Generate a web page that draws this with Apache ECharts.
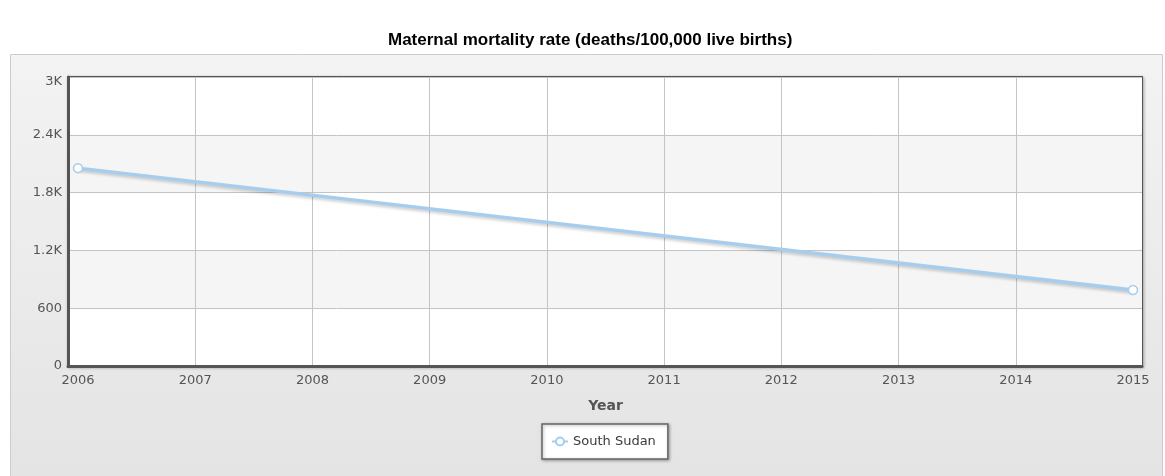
<!DOCTYPE html>
<html>
<head>
<meta charset="utf-8">
<script src="https://cdn.jsdelivr.net/npm/echarts@6/dist/echarts.min.js"></script>
<style>html,body{margin:0;padding:0;background:#fff;}#c{width:1165px;height:476px;}</style>
</head>
<body>
<div id="c"></div>
<script>
const titleText = 'Maternal mortality rate (deaths/100,000 live births)';
const seriesName = 'South Sudan';
const years = [2006, 2015];
const values = [2054, 789];
const yTicks = [0, 600, 1200, 1800, 2400, 3000];
const yTickLabels = ['0', '600', '1.2K', '1.8K', '2.4K', '3K'];

const chart = echarts.init(document.getElementById('c'));
const font = 'DejaVu Sans';
chart.setOption({
  animation: false,
  title: {
    text: titleText, left: 383, top: 27,
    textStyle: {fontFamily: 'Liberation Sans', fontWeight: 'bold', fontSize: 17, color: '#000'}
  },
  graphic: [{
    type: 'rect', z: -100, silent: true,
    shape: {x: 10.5, y: 54.5, width: 1152, height: 440},
    style: {
      fill: new echarts.graphic.LinearGradient(0, 0, 0, 1, [
        {offset: 0, color: '#f3f3f3'}, {offset: 1, color: '#e3e3e3'}
      ]),
      stroke: '#cccccc', lineWidth: 1
    }
  }],
  grid: [
    {left: 68, right: 23, top: 77, bottom: 110, show: true, borderColor: '#555', borderWidth: 2,
     backgroundColor: '#fff', shadowColor: 'rgba(0,0,0,0.25)', shadowBlur: 3, shadowOffsetX: 1, shadowOffsetY: 1},
    {left: 78, right: 32, top: 77, bottom: 110}
  ],
  xAxis: [
    {gridIndex: 0, type: 'value', min: 0, max: 1, axisLabel: {show: false}, axisTick: {show: false},
     splitLine: {show: false}, axisLine: {show: true, lineStyle: {color: '#555', width: 3}}},
    {gridIndex: 1, type: 'value', min: years[0], max: years[years.length - 1], interval: 1,
     name: 'Year', nameLocation: 'middle', nameGap: 33,
     nameTextStyle: {fontFamily: font, fontWeight: 'bold', fontSize: 14, color: '#555'},
     axisLine: {show: false}, axisTick: {show: false},
     axisLabel: {margin: 8, fontFamily: font, fontSize: 13, color: '#555', formatter: v => String(v)},
     splitLine: {show: true, showMinLine: false, showMaxLine: false, lineStyle: {color: '#c4c4c4', width: 1}}}
  ],
  yAxis: [
    {gridIndex: 0, type: 'value', min: yTicks[0], max: yTicks[yTicks.length - 1], interval: 600,
     axisLine: {show: true, lineStyle: {color: '#555', width: 3}}, axisTick: {show: false},
     axisLabel: {margin: 6, fontFamily: font, fontSize: 13, color: '#555',
       formatter: v => v === yTicks[yTicks.length - 1] ? '{top|' + yTickLabels[yTicks.indexOf(v)] + '}' : yTickLabels[yTicks.indexOf(v)],
       rich: {top: {fontFamily: font, fontSize: 13, color: '#555', padding: [10, 0, 0, 0]}}},
     splitLine: {show: true, lineStyle: {color: '#c4c4c4', width: 1}},
     splitArea: {show: true, areaStyle: {color: ['#ffffff', '#f5f5f5']}}},
    {gridIndex: 1, type: 'value', min: yTicks[0], max: yTicks[yTicks.length - 1], show: false}
  ],
  legend: {
    left: 542, top: 424, itemWidth: 16, itemHeight: 10, itemGap: 6,
    padding: [11, 12, 11, 9],
    backgroundColor: '#fff', borderColor: '#666', borderWidth: 1.5,
    shadowColor: 'rgba(0,0,0,0.3)', shadowBlur: 3, shadowOffsetX: 1, shadowOffsetY: 1,
    textStyle: {fontFamily: font, fontSize: 13, color: '#3a3a3a'},
    data: [seriesName]
  },
  series: [{
    name: seriesName, type: 'line', xAxisIndex: 1, yAxisIndex: 1,
    data: years.map((y, i) => [y, values[i]]),
    symbol: 'circle', symbolSize: 9,
    itemStyle: {color: '#ffffff', borderColor: '#a6cdee', borderWidth: 1.5},
    lineStyle: {color: '#a6cdee', width: 3.5, shadowColor: 'rgba(0,0,0,0.2)', shadowBlur: 3, shadowOffsetY: 2}
  }]
});
</script>
</body>
</html>
